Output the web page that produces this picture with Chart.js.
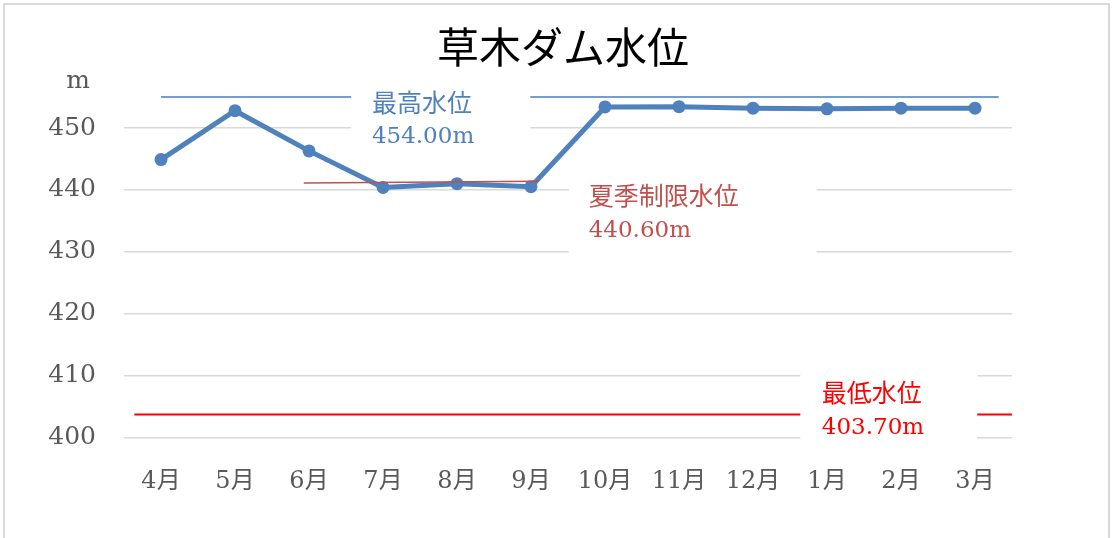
<!DOCTYPE html>
<html>
<head>
<meta charset="utf-8">
<script src="https://cdn.jsdelivr.net/npm/chart.js@4"></script>
<style>
  html, body { margin: 0; padding: 0; background: #fff; }
  #wrap { position: relative; width: 1116px; height: 538px; overflow: hidden; }
  #frame { position: absolute; left: 3px; top: 3px; width: 1107px; height: 560px; border: 2px solid #d9d9d9; box-sizing: border-box; pointer-events: none; }
  canvas { position: absolute; left: 0; top: 0; }
</style>
</head>
<body>
<div id="wrap">
  <canvas id="damChart" width="1116" height="538"></canvas>
  <div id="frame"></div>
</div>
<script>
// 月別の水位 (m)
const months = ['4月', '5月', '6月', '7月', '8月', '9月', '10月', '11月', '12月', '1月', '2月', '3月'];
const waterLevel = [444.9, 452.8, 446.3, 440.4, 441.0, 440.5, 453.4, 453.45, 453.2, 453.1, 453.2, 453.2];

// 基準線 (x はカテゴリ番号)
const maxLevelLine = [{ x: 0, y: 455 }, { x: 2.57, y: 455 }, { x: 3.8, y: null }, { x: 4.99, y: 455 }, { x: 11.32, y: 455 }];
const summerLevelLine = [{ x: 1.93, y: 441.1 }, { x: 5.11, y: 441.4 }];
const minLevelLine = [{ x: -0.36, y: 403.7 }, { x: 8.64, y: 403.7 }, { x: 9.8, y: null }, { x: 11.03, y: 403.7 }, { x: 11.5, y: 403.7 }];

const yTicks = [400, 410, 420, 430, 440, 450];

const serif = '"DejaVu Serif", "Noto Sans CJK JP", serif';
const cjk = '"Noto Sans CJK JP", sans-serif';

//-- labels for the reference lines
const refLabels = [
  { name: '最高水位', value: '454.00m', color: '#4f81bd', box: [2.57, 4.99, 457, 446.4], textX: 2.85, textY: [454.2, 448.5] },
  { name: '夏季制限水位', value: '440.60m', color: '#c0504d', box: [5.51, 8.86, 443.2, 428.3], textX: 5.78, textY: [439.15, 433.35] },
  { name: '最低水位', value: '403.70m', color: '#ff0000', box: [8.64, 11.03, 411.2, 398.4], textX: 8.93, textY: [407.3, 401.5] }
];

const labelPlugin = {
  id: 'refLabels',
  beforeDatasetsDraw(chart) {
    const ctx = chart.ctx;
    const xs = chart.scales.xl;
    const ys = chart.scales.y;
    ctx.save();
    refLabels.forEach(l => {
      const x1 = xs.getPixelForValue(l.box[0]);
      const x2 = xs.getPixelForValue(l.box[1]);
      const y1 = ys.getPixelForValue(l.box[2]);
      const y2 = ys.getPixelForValue(l.box[3]);
      ctx.fillStyle = '#fff';
      ctx.fillRect(x1, y1, x2 - x1, y2 - y1);
      ctx.fillStyle = l.color;
      ctx.textAlign = 'left';
      ctx.textBaseline = 'middle';
      const tx = xs.getPixelForValue(l.textX);
      ctx.font = '25px ' + cjk;
      ctx.fillText(l.name, tx, ys.getPixelForValue(l.textY[0]));
      ctx.font = '23px ' + serif;
      ctx.fillText(l.value, tx, ys.getPixelForValue(l.textY[1]));
    });
    // unit
    ctx.fillStyle = '#595959';
    ctx.font = '25px ' + serif;
    ctx.textAlign = 'center';
    ctx.textBaseline = 'middle';
    ctx.fillText('m', ys.right - 46, ys.top - 3);
    ctx.restore();
  }
};

const ctx = document.getElementById('damChart').getContext('2d');
const damChart = new Chart(ctx, {
  type: 'line',
  data: {
    labels: months,
    datasets: [
      {
        label: '水位',
        data: waterLevel,
        borderColor: '#4f81bd',
        backgroundColor: '#4f81bd',
        borderWidth: 5,
        pointRadius: 6.5,
        pointBorderWidth: 0,
        pointBackgroundColor: '#4f81bd',
        order: 2
      },
      {
        label: '最高水位',
        data: maxLevelLine,
        xAxisID: 'xl',
        borderColor: '#4a7ebb',
        borderWidth: 1.5,
        pointRadius: 0,
        spanGaps: false,
        order: 1
      },
      {
        label: '夏季制限水位',
        data: summerLevelLine,
        xAxisID: 'xl',
        borderColor: '#c0504d',
        borderWidth: 1.5,
        pointRadius: 0,
        order: 1
      },
      {
        label: '最低水位',
        data: minLevelLine,
        xAxisID: 'xl',
        borderColor: '#ff0000',
        borderWidth: 2,
        pointRadius: 0,
        spanGaps: false,
        order: 1
      }
    ]
  },
  options: {
    responsive: false,
    animation: false,
    layout: { padding: { left: 10, right: 0, top: 0, bottom: 0 } },
    scales: {
      x: {
        type: 'category',
        offset: true,
        grid: { display: false },
        border: { display: false },
        ticks: { color: '#595959', font: { family: serif, size: 24 }, padding: 22, maxRotation: 0 },
        afterFit: s => { s.height = 100.7; }
      },
      xl: {
        type: 'linear',
        display: false,
        min: -0.5,
        max: 11.5
      },
      y: {
        min: 400,
        max: 457,
        afterBuildTicks: s => { s.ticks = yTicks.map(v => ({ value: v })); },
        grid: { color: '#d9d9d9', lineWidth: 1.5, drawTicks: false },
        border: { display: false },
        ticks: { color: '#595959', font: { family: serif, size: 25 }, padding: 28 },
        afterFit: s => { s.width = 114; }
      },
      // 右側の余白用
      yr: {
        position: 'right',
        min: 400,
        max: 457,
        grid: { display: false },
        border: { display: false },
        ticks: { display: false },
        afterFit: s => { s.width = 104; }
      }
    },
    plugins: {
      legend: { display: false },
      tooltip: { enabled: false },
      title: {
        display: true,
        text: '草木ダム水位',
        color: '#000',
        font: { family: cjk, size: 42, weight: 'normal' },
        padding: { top: 22, bottom: 12.3 }
      }
    }
  },
  plugins: [labelPlugin]
});
</script>
</body>
</html>
